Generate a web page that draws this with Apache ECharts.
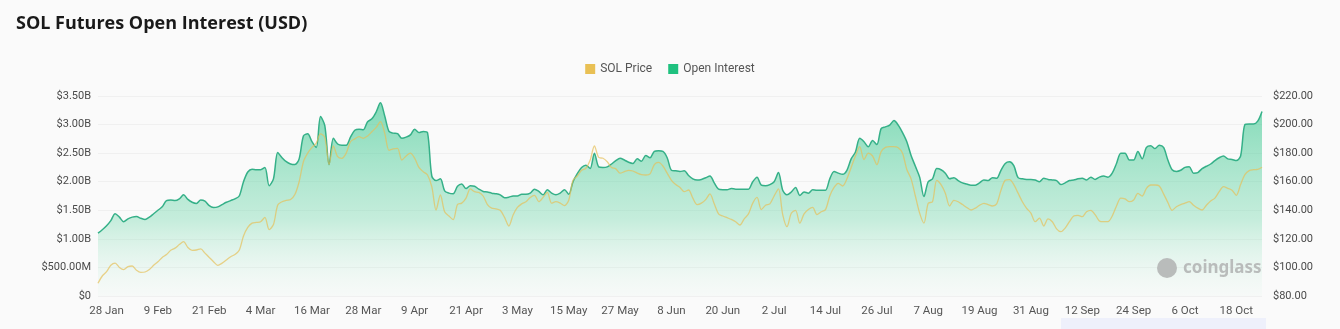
<!DOCTYPE html>
<html>
<head>
<meta charset="utf-8">
<script src="https://cdn.jsdelivr.net/npm/echarts@6/dist/echarts.min.js"></script>
<style>
html,body{margin:0;padding:0;background:#fafafa;}
#chart{width:1340px;height:329px;}
</style>
</head>
<body>
<div id="chart"></div>
<script>
// Daily data, 26 Jan 2024 .. 24 Oct 2024
const startDate = [2024, 0, 26];
const dayCount = 273;

// Open interest, billions USD
const openInterest = [
1.10,1.16,1.23,1.32,1.44,1.38,1.30,1.35,1.38,1.39,
1.36,1.34,1.38,1.44,1.50,1.56,1.67,1.68,1.67,1.70,
1.77,1.69,1.64,1.62,1.68,1.66,1.58,1.55,1.56,1.60,
1.64,1.67,1.70,1.75,2.00,2.17,2.22,2.21,2.21,2.25,
1.93,2.05,2.51,2.42,2.35,2.31,2.30,2.40,2.80,2.84,
2.70,2.60,3.14,2.98,2.30,2.76,2.66,2.64,2.64,2.78,
2.90,2.92,2.91,3.05,3.10,3.22,3.38,3.15,2.88,2.85,
2.84,2.76,2.78,2.82,2.92,2.86,2.88,2.86,2.10,2.02,
2.05,1.84,1.80,1.79,1.92,1.96,1.88,1.93,1.92,1.87,
1.83,1.82,1.80,1.79,1.77,1.72,1.73,1.75,1.75,1.78,
1.78,1.80,1.87,1.83,1.77,1.86,1.80,1.77,1.80,1.86,
1.78,2.00,2.14,2.25,2.29,2.23,2.50,2.26,2.25,2.26,
2.31,2.37,2.41,2.38,2.34,2.32,2.40,2.36,2.46,2.42,
2.53,2.54,2.53,2.42,2.20,2.19,2.18,2.19,2.11,2.05,
2.03,2.04,2.07,2.10,1.98,1.87,1.86,1.86,1.88,1.87,
1.87,1.87,1.87,2.00,2.08,1.94,1.93,1.95,2.00,2.16,
1.85,1.77,1.82,1.90,1.76,1.82,1.80,1.86,1.85,1.85,
1.85,2.05,2.18,2.15,2.13,2.20,2.40,2.52,2.76,2.70,
2.61,2.72,2.65,2.93,2.96,2.99,3.07,2.99,2.86,2.70,
2.46,2.27,2.08,1.74,2.00,2.05,2.23,2.21,2.15,2.05,
2.07,2.02,1.98,1.96,1.94,1.94,1.98,2.03,2.02,2.07,
2.06,2.20,2.32,2.35,2.28,2.07,2.05,2.04,2.04,2.03,
2.00,2.06,2.04,2.03,2.02,1.95,1.98,2.02,2.03,2.05,
2.06,2.03,2.08,2.04,2.08,2.10,2.08,2.15,2.32,2.50,
2.50,2.38,2.38,2.53,2.40,2.60,2.63,2.58,2.64,2.60,
2.38,2.21,2.18,2.20,2.25,2.26,2.15,2.16,2.23,2.27,
2.31,2.37,2.42,2.45,2.40,2.39,2.37,2.45,3.00,3.01,
3.01,3.06,3.23
];

// SOL price, USD
const solPrice = [
88.9,94,97,101.5,103,100,98.5,100.5,101,98,
96.5,96.8,98.5,101.5,104,107,109,112,113.5,116,
118,114,112,112.2,113,110,107,104,101.5,103,
105.2,107.5,109,112,122,128,131,131.5,132,135,
126.5,130,143.7,146,147,147.5,151,160,174,180,
184,187,193.5,191,172,185,177.5,176.4,180,188,
190,191.5,190.4,192,195,198,202,194,182,183,
183.4,175.2,178,180,176.4,170,167,164.7,156.5,140.2,
150.7,139,136,133.5,144,145,148.5,155,153,152.5,
150,144,141.5,141,140,135,129,136.7,142,144.5,
146,149,150.5,146,149,152.5,145,146,145,143.3,
147,161,164,168,169.4,175,185,177,176.4,174,
170,169,166,167,168,167.5,166,165,164.7,165.5,
172,173.5,171,166,161,158,156,153,154.2,148.5,
144,145,147.5,151.5,144.5,137.5,136,134.8,133.6,132,
129.7,134,137.5,145,149,140.5,143.5,144.5,150,155,
137,128.5,137.9,140,131,137.5,140.5,142,137,139,
140.5,150,156,158.9,157,162,170,178,184.6,175.5,
180,178,172,181,184,184.6,184.6,183.8,180,168.5,
162,150,138,131,144.9,146,161,158,152,143,
147,146,144,142,140.2,141.5,143.5,144.9,144,143,
144.5,154,161,161.5,158,152,146,141.4,138,132,
134.5,129,134,132,127,125,127.5,132,136,136.5,
135.5,139,140,137,132.5,132,132,136,143,148.5,
148,146,147.2,151.9,150,155.4,157.7,157.7,157,151.5,
145.5,140,142.5,144,145,146,143.5,141.5,140.2,143.5,
146.5,148.5,153,156.5,155.4,154,150.5,158,165,167.8,
168.4,168.6,170.1
];

const monthNames = ['Jan','Feb','Mar','Apr','May','Jun','Jul','Aug','Sep','Oct','Nov','Dec'];
const categories = [];
for (let k = 0; k < dayCount; k++) {
  const d = new Date(startDate[0], startDate[1], startDate[2] + k);
  categories.push(d.getDate() + ' ' + monthNames[d.getMonth()]);
}

const leftTicks = {min: 0, max: 3.5, interval: 0.5};
const rightTicks = {min: 80, max: 220, interval: 20};

function fmtOI(v) {
  if (v === 0) return '$0';
  if (v < 1) return '$' + (v * 1000).toFixed(2) + 'M';
  return '$' + v.toFixed(2) + 'B';
}

const chart = echarts.init(document.getElementById('chart'), null, {renderer: 'canvas'});
const option = {
  backgroundColor: '#fafafa',
  animation: false,
  textStyle: {fontFamily: 'Roboto, "Noto Sans", sans-serif'},
  title: {
    text: 'SOL Futures Open Interest (USD)',
    left: 11, top: 10,
    textStyle: {fontFamily: '"Open Sans", "Noto Sans", sans-serif', fontSize: 18, fontWeight: 'bold', color: '#1a1a1a'}
  },
  legend: {
    top: 58, left: 'center',
    itemWidth: 10, itemHeight: 10, itemGap: 16,
    icon: 'rect',
    textStyle: {color: '#555', fontSize: 12},
    data: ['SOL Price', 'Open Interest']
  },
  grid: {left: 98, right: 78, top: 96, bottom: 33, containLabel: false},
  xAxis: {
    type: 'category',
    data: categories,
    boundaryGap: false,
    axisLine: {show: false},
    axisTick: {show: false},
    axisLabel: {
      color: '#555', fontSize: 11.5, margin: 9,
      interval: function (idx) { return idx >= 2 && (idx - 2) % 12 === 0; }
    }
  },
  yAxis: [
    {
      type: 'value', position: 'left',
      min: leftTicks.min, max: leftTicks.max, interval: leftTicks.interval,
      axisLine: {show: false}, axisTick: {show: false},
      splitLine: {lineStyle: {color: '#f0f0f0'}},
      axisLabel: {color: '#4a4a4a', fontSize: 11, margin: 7, formatter: fmtOI}
    },
    {
      type: 'value', position: 'right',
      min: rightTicks.min, max: rightTicks.max, interval: rightTicks.interval,
      axisLine: {show: false}, axisTick: {show: false},
      splitLine: {show: false},
      axisLabel: {color: '#4a4a4a', fontSize: 11, margin: 11, formatter: v => '$' + v.toFixed(2)}
    }
  ],
  series: [
    {
      name: 'SOL Price', type: 'line', yAxisIndex: 1,
      data: solPrice, showSymbol: false, smooth: 0.3, z: 5,
      itemStyle: {color: '#e9c054'},
      lineStyle: {color: 'rgba(230,192,90,0.7)', width: 1.3}
    },
    {
      name: 'Open Interest', type: 'line', yAxisIndex: 0,
      data: openInterest, showSymbol: false, smooth: 0.3, z: 2,
      itemStyle: {color: '#1fc17f'},
      lineStyle: {color: '#35b088', width: 1.5},
      areaStyle: {
        color: new echarts.graphic.LinearGradient(0, 0, 0, 1, [
          {offset: 0, color: 'rgba(55,198,142,0.88)'},
          {offset: 0.6, color: 'rgba(110,215,170,0.55)'},
          {offset: 1, color: 'rgba(210,242,226,0.12)'}
        ])
      }
    }
  ],
  graphic: [
    {
      type: 'text', left: 1183, top: 260, z: 10,
      style: {text: 'coinglass', fill: '#b9bcbb', font: 'bold 17px "Noto Sans", sans-serif'}
    },
    {
      type: 'circle', left: 1157, top: 258, z: 10,
      shape: {r: 10}, style: {fill: '#b9bcbb'}
    },
    {
      type: 'rect', left: 1061, top: 318, z: 10,
      shape: {width: 205, height: 11}, style: {fill: '#eef0fb'}
    }
  ]
};
chart.setOption(option);
</script>
</body>
</html>
